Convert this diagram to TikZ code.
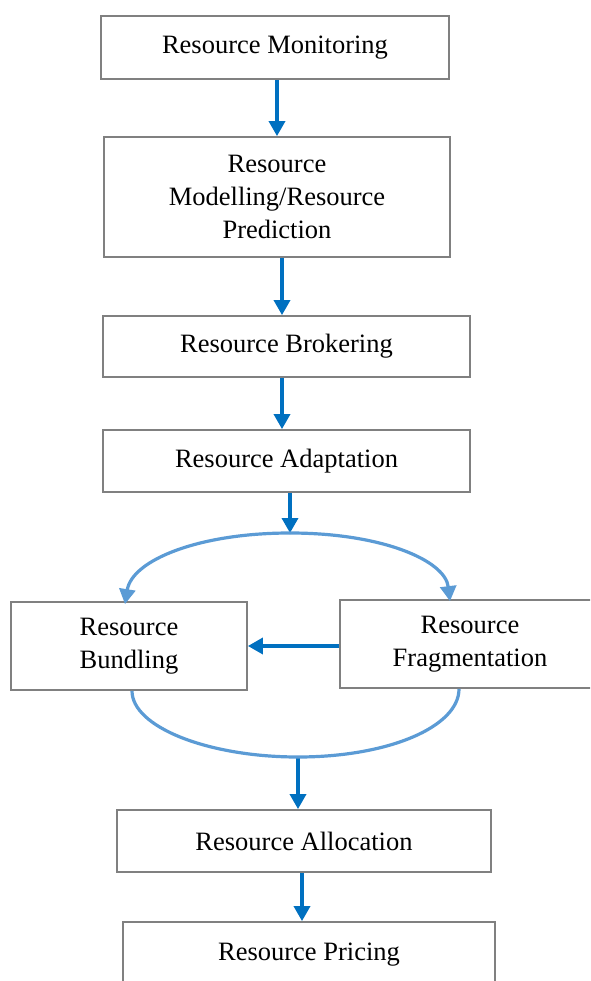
\documentclass[tikz,border=0pt]{standalone}
\usepackage{fontspec}
\setmainfont{Liberation Serif}
\usetikzlibrary{arrows.meta}
\definecolor{darrow}{HTML}{0070C0}
\definecolor{larrow}{HTML}{5B9BD5}
\definecolor{boxgray}{HTML}{808080}
\begin{document}
\begin{tikzpicture}[x=1pt,y=-1pt,
  box/.style={draw=boxgray,line width=1.8pt,fill=white,inner sep=0pt,align=center,
    font=\fontsize{26.5}{33}\selectfont},
  arr/.style={draw=darrow,line width=3.4pt,-{Triangle[length=15pt,width=16pt]}},
  carr/.style={draw=larrow,line width=3.2pt,-{Triangle[length=15pt,width=16pt]}},
  cline/.style={draw=larrow,line width=3.2pt}]
\clip (0,0) rectangle (590,981);
\fill[white] (0,0) rectangle (590,981);
\node[box,minimum width=348pt,minimum height=63pt] (b1) at (275,47.5) {Resource Monitoring};
\node[box,minimum width=346pt,minimum height=120pt] (b2) at (277,197) {Resource\\Modelling/Resource\\Prediction};
\node[box,minimum width=367pt,minimum height=61pt] (b3) at (286.5,346.5) {Resource Brokering};
\node[box,minimum width=367pt,minimum height=62pt] (b4) at (286.5,461) {Resource Adaptation};
\node[box,minimum width=236pt,minimum height=88pt] (bund) at (129,646) {Resource\\Bundling};
\node[box,minimum width=260pt,minimum height=88pt] (frag) at (470,644) {Resource\\Fragmentation};
\node[box,minimum width=374pt,minimum height=62pt] (alloc) at (304,841) {Resource Allocation};
\node[box,minimum width=372pt,minimum height=66pt] (price) at (309,955) {Resource Pricing};
\coordinate (top) at (290,533);
\coordinate (bot) at (298,757);
% straight arrows
\draw[arr] ([xshift=2pt]b1.south) -- ([xshift=2pt]b1.south |- b2.north);
\draw[arr] ([xshift=5pt]b2.south) -- ([xshift=5pt]b2.south |- b3.north);
\draw[arr] ([xshift=-4.5pt]b3.south) -- ([xshift=-4.5pt]b3.south |- b4.north);
\draw[arr] (b4.south -| top) -- (top);
\draw[arr] (frag.west |- bund.east) -- (bund.east);
\draw[arr] (bot) -- (bot |- alloc.north);
\draw[arr] ([xshift=-2pt]alloc.south) -- ([xshift=-2pt]alloc.south |- price.north);
% top arc
\draw[carr] (top) .. controls (199,533) and (132,560) .. ([xshift=-4pt,yshift=-3pt]bund.north);
\draw[carr] (top) .. controls (381,533) and (445,560) .. ([xshift=-20pt,yshift=-2pt]frag.north);
% bottom arc
\draw[cline] ([xshift=3pt]bund.south) .. controls (132,727) and (208,757) .. (bot)
  .. controls (388,757) and (459,727) .. ([xshift=-11pt]frag.south);
\end{tikzpicture}
\end{document}
